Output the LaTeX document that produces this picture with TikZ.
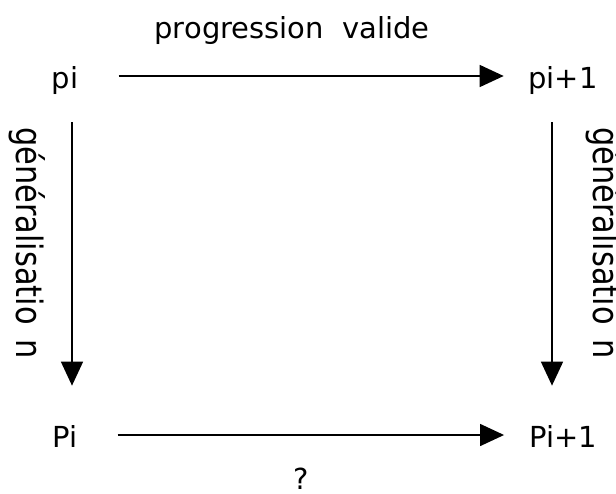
\documentclass[tikz,border=0pt]{standalone}
\usepackage{fontspec}
\setmainfont{DejaVu Sans}
\usetikzlibrary{arrows.meta}

\begin{document}
\begin{tikzpicture}[x=0.025cm, y=-0.025cm,
  term/.style={inner sep=0pt, font=\fontsize{20.6}{24}\selectfont,
               text height=0.65cm, text depth=0.05cm},
  arr/.style={-{Triangle[length=0.6cm, width=0.54cm]}, line width=1.9pt,
              draw=black},
  lbl/.style={inner sep=0pt, font=\fontsize{20.6}{24}\selectfont},
  vlbl/.style={lbl, rotate=-90, anchor=base west}
]
  \useasboundingbox (0,0) rectangle (616,493);

  % ========== CORNERS ==========
  \node[term] (pi) at (65, 76) {pi};
  \node[term] (pinext) at (563, 76) {pi+1};
  \node[term] (Pi) at (65, 435) {Pi};
  \node[term] (Pinext) at (563, 435) {Pi+1};

  % ========== LABELS ==========
  \node[lbl, anchor=base] (valid) at (292, 38) {progression~~valide};
  \node[lbl, anchor=base] (unknown) at (301, 489) {?};
  \node[vlbl] (genleft) at (17, 127)
    {\scalebox{1.05}[1.25]{généralisatio\hspace{0.35cm}n}};
  \node[vlbl] (genright) at (593, 127)
    {\scalebox{1.05}[1.25]{généralisatio\hspace{0.35cm}n}};

  % ======== ARROWS: horizontal ========
  \draw[arr, shorten <=1cm, shorten >=0.61cm] (pi) -- (pinext);
  \draw[arr, shorten <=1cm, shorten >=0.62cm] (Pi) -- (Pinext);

  % ======== ARROWS: vertical ========
  \draw[arr, shorten <=0.8cm, shorten >=0.875cm]
    ([xshift=0.175cm]pi.south) -- ([xshift=0.175cm]Pi.north);
  \draw[arr, shorten <=0.8cm, shorten >=0.875cm]
    ([xshift=-0.275cm]pinext.south) -- ([xshift=-0.275cm]Pinext.north);

\end{tikzpicture}
\end{document}
